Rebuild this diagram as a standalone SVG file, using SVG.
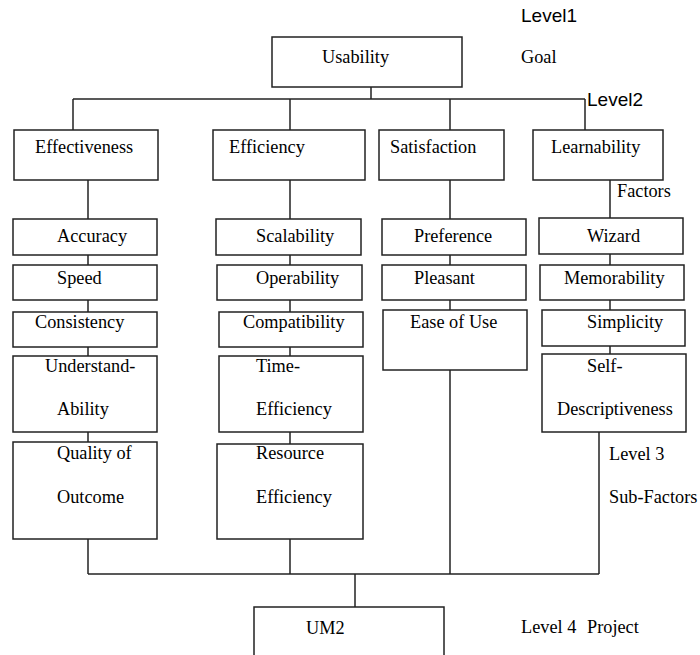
<svg xmlns="http://www.w3.org/2000/svg" width="700" height="655" viewBox="0 0 700 655">
<style>
rect{fill:#fff;stroke:#222;stroke-width:1.5}
.c line{stroke:#222;stroke-width:1.5}
text{font-family:"Liberation Serif","Times New Roman",serif;font-size:18.3px;fill:#000}
.s{font-family:"Liberation Sans",Arial,sans-serif;font-size:19px}
</style>
<rect x="0" y="0" width="700" height="655" style="stroke:none"/>
<g class="c" id="connectors">
<line x1="371" y1="87" x2="371" y2="99"/>
<line x1="73" y1="99" x2="585" y2="99"/>
<line x1="73" y1="99" x2="73" y2="130"/>
<line x1="290" y1="99" x2="290" y2="130"/>
<line x1="450" y1="99" x2="450" y2="130"/>
<line x1="585" y1="99" x2="585" y2="130"/>
<line x1="88" y1="180" x2="88" y2="219"/>
<line x1="290" y1="180" x2="290" y2="219"/>
<line x1="450" y1="180" x2="450" y2="219"/>
<line x1="610" y1="180" x2="610" y2="218"/>
<line x1="88" y1="255" x2="88" y2="265"/>
<line x1="88" y1="300" x2="88" y2="312"/>
<line x1="88" y1="347" x2="88" y2="356"/>
<line x1="88" y1="432" x2="88" y2="442"/>
<line x1="290" y1="255" x2="290" y2="265"/>
<line x1="290" y1="300" x2="290" y2="312"/>
<line x1="290" y1="347" x2="290" y2="356"/>
<line x1="290" y1="432" x2="290" y2="444"/>
<line x1="450" y1="255" x2="450" y2="265"/>
<line x1="450" y1="300" x2="450" y2="310"/>
<line x1="610" y1="254" x2="610" y2="265"/>
<line x1="610" y1="300" x2="610" y2="310"/>
<line x1="610" y1="346" x2="610" y2="354"/>
<line x1="88" y1="539" x2="88" y2="574"/>
<line x1="290" y1="539" x2="290" y2="574"/>
<line x1="450" y1="370" x2="450" y2="574"/>
<line x1="599" y1="432" x2="599" y2="574"/>
<line x1="88" y1="574" x2="599" y2="574"/>
<line x1="355" y1="574" x2="355" y2="607"/>
</g>
<g id="usability"><rect x="272" y="37" width="190" height="50"/><text x="322" y="63">Usability</text></g>
<g id="effectiveness"><rect x="14" y="130" width="144" height="50"/><text x="35" y="153">Effectiveness</text></g>
<g id="efficiency"><rect x="213" y="130" width="152" height="50"/><text x="229" y="153">Efficiency</text></g>
<g id="satisfaction"><rect x="379" y="130" width="125" height="50"/><text x="390" y="153">Satisfaction</text></g>
<g id="learnability"><rect x="533" y="130" width="130" height="50"/><text x="551" y="153">Learnability</text></g>
<g id="accuracy"><rect x="13" y="219" width="144" height="36"/><text x="57" y="242">Accuracy</text></g>
<g id="speed"><rect x="13" y="265" width="144" height="35"/><text x="57" y="284">Speed</text></g>
<g id="consistency"><rect x="13" y="312" width="144" height="35"/><text x="35" y="328">Consistency</text></g>
<g id="understandability"><rect x="13" y="356" width="144" height="76"/><text x="45" y="372">Understand-</text><text x="57" y="415">Ability</text></g>
<g id="quality"><rect x="13" y="442" width="144" height="97"/><text x="57" y="459">Quality of</text><text x="57" y="503">Outcome</text></g>
<g id="scalability"><rect x="216" y="219" width="145" height="36"/><text x="256" y="242">Scalability</text></g>
<g id="operability"><rect x="217" y="265" width="145" height="35"/><text x="256" y="284">Operability</text></g>
<g id="compatibility"><rect x="219" y="312" width="144" height="35"/><text x="243" y="328">Compatibility</text></g>
<g id="time-efficiency"><rect x="219" y="356" width="144" height="76"/><text x="256" y="372">Time-</text><text x="256" y="415">Efficiency</text></g>
<g id="resource-efficiency"><rect x="217" y="444" width="146" height="95"/><text x="256" y="459">Resource</text><text x="256" y="503">Efficiency</text></g>
<g id="preference"><rect x="382" y="219" width="144" height="36"/><text x="414" y="242">Preference</text></g>
<g id="pleasant"><rect x="382" y="265" width="144" height="35"/><text x="414" y="284">Pleasant</text></g>
<g id="ease-of-use"><rect x="383" y="310" width="144" height="60"/><text x="410" y="328">Ease of Use</text></g>
<g id="wizard"><rect x="539" y="218" width="144" height="36"/><text x="587" y="242">Wizard</text></g>
<g id="memorability"><rect x="540" y="265" width="144" height="35"/><text x="564" y="284">Memorability</text></g>
<g id="simplicity"><rect x="542" y="310" width="143" height="36"/><text x="587" y="328">Simplicity</text></g>
<g id="self-descriptiveness"><rect x="542" y="354" width="144" height="78"/><text x="587" y="372">Self-</text><text x="557" y="415">Descriptiveness</text></g>
<g id="um2"><rect x="254" y="607" width="190" height="60"/><text x="306" y="634">UM2</text></g>
<g id="labels">
<text class="s" x="521" y="22">Level1</text>
<text x="521" y="63">Goal</text>
<text class="s" x="587" y="106">Level2</text>
<text x="617" y="197">Factors</text>
<text x="609" y="460">Level 3</text>
<text x="609" y="503">Sub-Factors</text>
<text x="521" y="633">Level 4</text>
<text x="587" y="633">Project</text>
</g>
</svg>
